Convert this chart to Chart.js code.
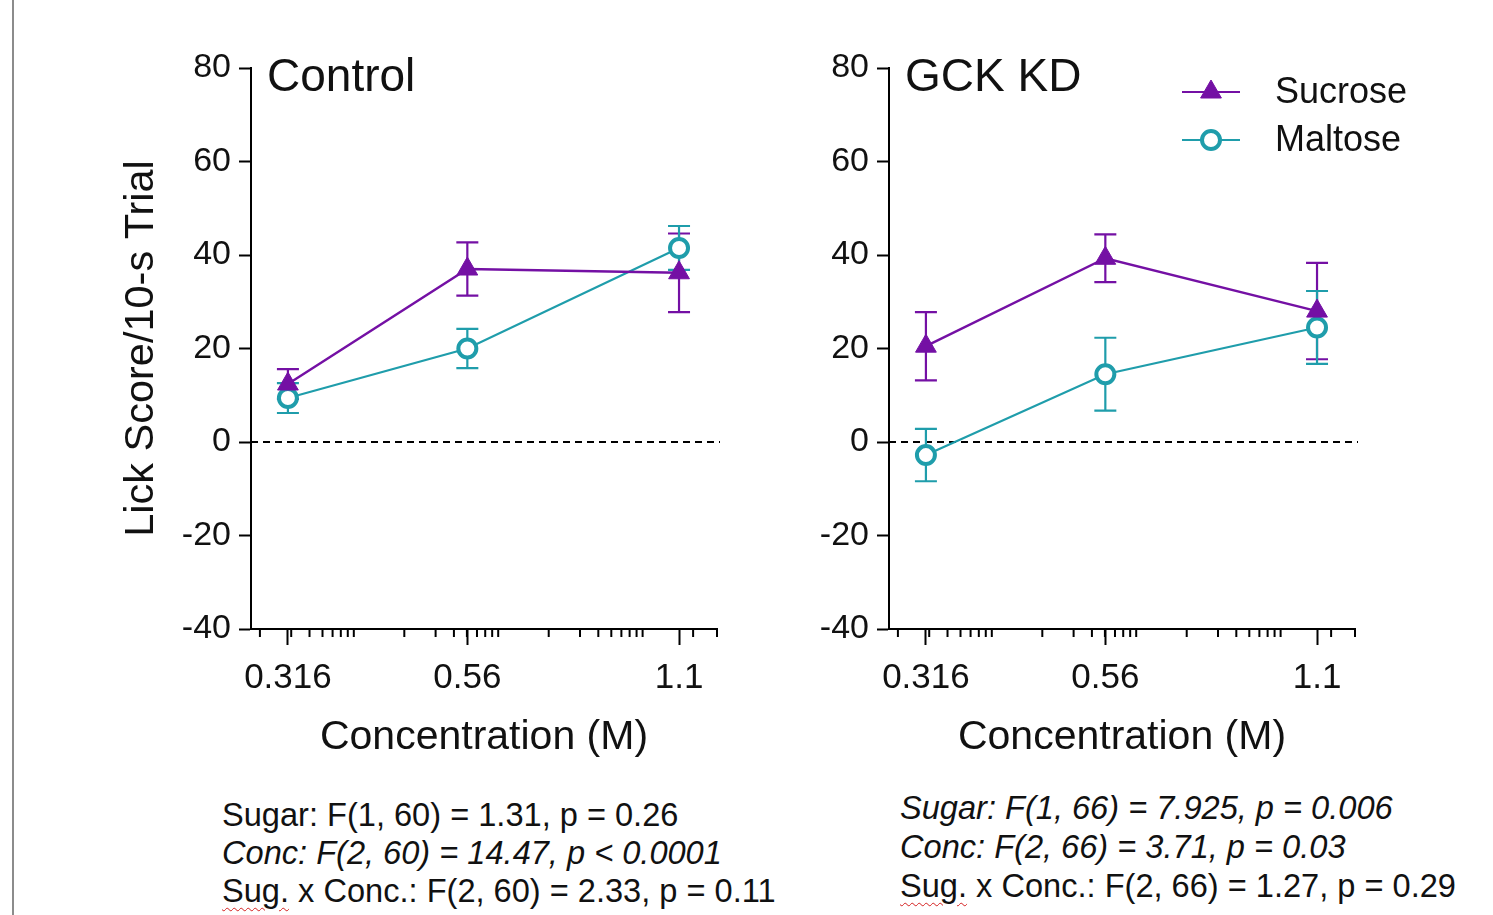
<!DOCTYPE html>
<html>
<head>
<meta charset="utf-8">
<script src="https://cdn.jsdelivr.net/npm/chart.js@4.4.1/dist/chart.umd.min.js"></script>
<style>
  body { margin:0; width:1493px; height:915px; background:#fff; position:relative; overflow:hidden;
         font-family:"Liberation Sans", Arial, sans-serif; color:#111; }
  .frame { position:absolute; left:12px; top:0; width:2px; height:915px; background:#8c8c8c; }
  canvas { position:absolute; top:0; }
  .stats { position:absolute; font-size:32.6px; line-height:38px; white-space:nowrap; }
  .stats .it { font-style:italic; }
  .spell { text-decoration:underline wavy #d42020; text-decoration-thickness:1px; text-underline-offset:5px; }
</style>
</head>
<body>
<div class="frame"></div>
<canvas id="ctrl" width="760" height="780" style="left:0"></canvas>
<canvas id="gck" width="855" height="780" style="left:638px"></canvas>

<div class="stats" style="left:222px; top:796px">
  <div>Sugar: F(1, 60) = 1.31, p = 0.26</div>
  <div class="it">Conc: F(2, 60) = 14.47, p &lt; 0.0001</div>
  <div><span class="spell">Sug.</span> x Conc.: F(2, 60) = 2.33, p = 0.11</div>
</div>
<div class="stats" style="left:900px; top:788px; line-height:39px">
  <div class="it">Sugar: F(1, 66) = 7.925, p = 0.006</div>
  <div class="it">Conc: F(2, 66) = 3.71, p = 0.03</div>
  <div><span class="spell">Sug.</span> x Conc.: F(2, 66) = 1.27, p = 0.29</div>
</div>

<script>
// values
const concentrations = [0.316, 0.56, 1.1];
const xTickLabels = ['0.316', '0.56', '1.1'];
const yTicks = [-40, -20, 0, 20, 40, 60, 80];
const seriesNames = ['Sucrose', 'Maltose'];

const controlSucrose = [12.4, 37.0, 36.2];
const controlSucroseSem = [3.2, 5.7, 8.4];
const controlMaltose = [9.4, 20.0, 41.5];
const controlMaltoseSem = [3.2, 4.2, 4.7];

const gckSucrose = [20.5, 39.3, 28.0];
const gckSucroseSem = [7.3, 5.1, 10.3];
const gckMaltose = [-2.8, 14.5, 24.5];
const gckMaltoseSem = [5.6, 7.8, 7.8];

const purple = '#7410a4';
const teal = '#1f9dab';

Chart.defaults.font.family = "'Liberation Sans', Arial, sans-serif";
Chart.defaults.color = '#111';

const xMin = 0.2809, xMax = 1.2416;

// prism style minor ticks on the log axis
function minorTicks() {
  const out = [];
  const start = Math.log10(0.289);
  for (let g = 0; g < 5; g++) {
    for (let j = 1; j <= 8; j++) {
      const v = Math.pow(10, start + 0.2 * g + 0.144 * Math.log10(j));
      if (v < xMax) out.push(v);
    }
  }
  out.push(xMax);
  return out;
}

const panelDecor = {
  id: 'panelDecor',
  beforeDatasetsDraw(chart) {
    const {ctx, chartArea, scales: {x, y}} = chart;
    ctx.save();
    // dashed zero line
    ctx.strokeStyle = '#000';
    ctx.lineWidth = 2;
    ctx.setLineDash([7, 5]);
    const y0 = y.getPixelForValue(0);
    ctx.beginPath();
    ctx.moveTo(chartArea.left, y0);
    ctx.lineTo(chartArea.right + 3, y0);
    ctx.stroke();
    ctx.setLineDash([]);
    // error bars
    chart.data.datasets.forEach(ds => {
      ctx.strokeStyle = ds.borderColor;
      ctx.lineWidth = 2.2;
      ds.data.forEach((pt, k) => {
        const px = x.getPixelForValue(pt.x);
        const top = y.getPixelForValue(pt.y + ds.sem[k]);
        const bot = y.getPixelForValue(pt.y - ds.sem[k]);
        ctx.beginPath();
        ctx.moveTo(px, top); ctx.lineTo(px, bot);
        ctx.moveTo(px - 11, top); ctx.lineTo(px + 11, top);
        ctx.moveTo(px - 11, bot); ctx.lineTo(px + 11, bot);
        ctx.stroke();
      });
    });
    ctx.restore();
  },
  afterDraw(chart, args, opts) {
    const {ctx, chartArea, scales: {x}} = chart;
    ctx.save();
    // minor ticks
    ctx.strokeStyle = '#000';
    ctx.lineWidth = 2;
    ctx.beginPath();
    minorTicks().forEach(v => {
      const px = x.getPixelForValue(v);
      ctx.moveTo(px, chartArea.bottom);
      ctx.lineTo(px, chartArea.bottom + 8);
    });
    ctx.stroke();
    // panel title
    ctx.fillStyle = '#111';
    ctx.font = "46px 'Liberation Sans', Arial, sans-serif";
    ctx.textBaseline = 'middle';
    ctx.textAlign = 'left';
    ctx.fillText(opts.title, chartArea.left + 16, 78);
    // legend
    if (opts.legend) {
      ctx.font = "36px 'Liberation Sans', Arial, sans-serif";
      chart.data.datasets.forEach((ds, i) => {
        const ly = 92 + i * 48;
        const lx = chartArea.right - 144;
        ctx.strokeStyle = ds.borderColor;
        ctx.lineWidth = 2.2;
        ctx.beginPath();
        ctx.moveTo(lx - 29, ly); ctx.lineTo(lx + 29, ly);
        ctx.stroke();
        ctx.fillStyle = ds.pointBackgroundColor;
        ctx.strokeStyle = ds.borderColor;
        ctx.lineWidth = ds.pointBorderWidth;
        Chart.helpers.drawPoint(ctx, {pointStyle: ds.pointStyle, radius: ds.pointRadius,
          borderWidth: ds.pointBorderWidth, rotation: 0}, lx, ly);
        ctx.fillStyle = '#111';
        ctx.fillText(ds.label, lx + 64, ly + 1);
      });
    }
    ctx.restore();
  }
};

function makePanel(id, title, suc, sucSem, mal, malSem, showYTitle, showLegend, canvasWidth) {
  const toPts = arr => arr.map((v, i) => ({x: concentrations[i], y: v}));
  return new Chart(document.getElementById(id), {
    type: 'line',
    data: {
      datasets: [
        {
          label: seriesNames[0],
          data: toPts(suc),
          sem: sucSem,
          borderColor: purple,
          backgroundColor: purple,
          pointBackgroundColor: purple,
          pointBorderColor: purple,
          pointStyle: 'triangle',
          pointRadius: 12,
          pointBorderWidth: 1,
          borderWidth: 2.4,
          tension: 0
        },
        {
          label: seriesNames[1],
          data: toPts(mal),
          sem: malSem,
          borderColor: teal,
          backgroundColor: '#fff',
          pointBackgroundColor: '#fff',
          pointBorderColor: teal,
          pointStyle: 'circle',
          pointRadius: 9,
          pointBorderWidth: 4,
          borderWidth: 2.2,
          tension: 0
        }
      ]
    },
    options: {
      responsive: false,
      animation: false,
      layout: {padding: {top: 68, left: 0, right: canvasWidth - 717, bottom: 0}},
      plugins: {
        legend: {display: false},
        tooltip: {enabled: false},
        panelDecor: {title: title, legend: showLegend}
      },
      scales: {
        x: {
          type: 'logarithmic',
          min: xMin,
          max: xMax,
          afterBuildTicks: s => { s.ticks = concentrations.map(v => ({value: v})); },
          afterFit: s => { s.height = 151; },
          ticks: {
            autoSkip: false,
            maxRotation: 0,
            padding: 12,
            font: {size: 35},
            callback: (v, i) => xTickLabels[i]
          },
          grid: {drawOnChartArea: false, tickLength: 16, tickWidth: 2, tickColor: '#000'},
          border: {color: '#000', width: 2},
          title: {display: true, text: 'Concentration (M)', font: {size: 41},
                  padding: {top: 0, bottom: 18}}
        },
        y: {
          type: 'linear',
          min: -40,
          max: 80,
          afterBuildTicks: s => { s.ticks = yTicks.map(v => ({value: v})); },
          afterFit: s => { s.width = 251; },
          ticks: {padding: 8, font: {size: 34}},
          grid: {drawOnChartArea: false, tickLength: 12, tickWidth: 2, tickColor: '#000'},
          border: {color: '#000', width: 2},
          title: {display: showYTitle, text: 'Lick Score/10-s Trial', font: {size: 41.5},
                  padding: {top: 117, bottom: 0}}
        }
      }
    },
    plugins: [panelDecor]
  });
}

makePanel('ctrl', 'Control', controlSucrose, controlSucroseSem, controlMaltose, controlMaltoseSem, true, false, 760);
makePanel('gck', 'GCK KD', gckSucrose, gckSucroseSem, gckMaltose, gckMaltoseSem, false, true, 855);
</script>
</body>
</html>
